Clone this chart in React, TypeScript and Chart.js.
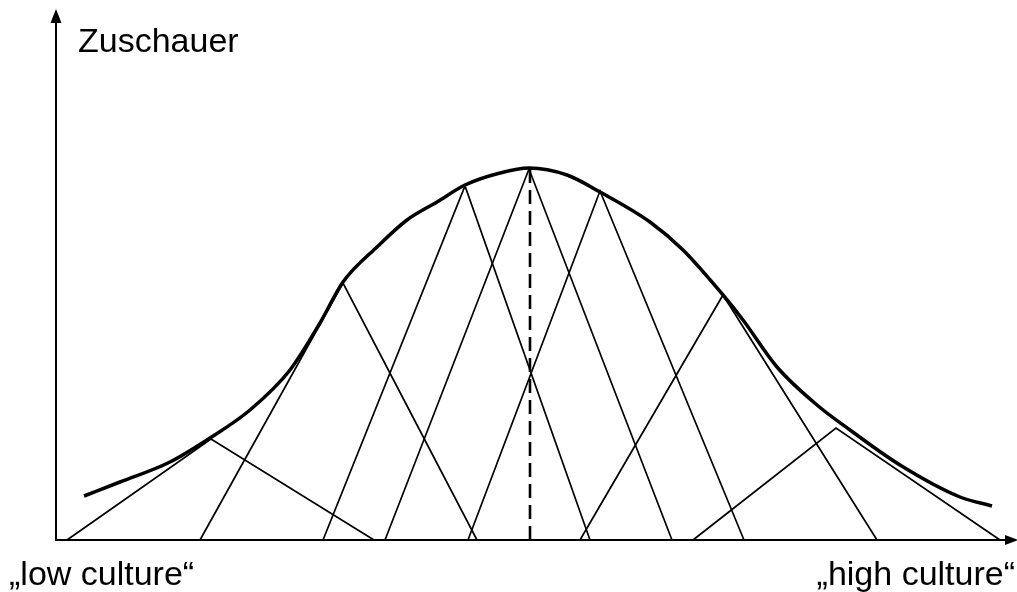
import React, { useEffect, useRef } from "react";
import { Chart, registerables } from "chart.js";

Chart.register(...registerables);

// Bell curve of audience ("Zuschauer") over the culture axis
const curveX = [2.8, 6.4, 11.4, 15.4, 19.4, 23.4, 26.4, 28.7, 32.1, 35.1, 38.1, 40.9, 44.4, 47.3, 51.1, 54.4, 59.4, 62.7, 66.7, 68.7, 72.1, 76.1, 79.4, 84.4, 90.4, 93.6];
const curveY = [4.4, 5.8, 7.8, 10.2, 13.0, 17.0, 21.7, 25.8, 29.3, 32.0, 33.8, 35.5, 36.7, 37.2, 36.5, 34.8, 31.8, 29.0, 24.5, 22.0, 17.3, 13.5, 11.0, 7.5, 4.3, 3.4];

// Triangles: left foot, apex, right foot
const triLeft = [1.1, 14.4, 26.7, 32.9, 41.2, 52.4, 63.7];
const triApexX = [15.5, 28.7, 40.9, 47.3, 54.4, 66.7, 78.0];
const triApexY = [10.1, 25.7, 35.4, 37.1, 34.9, 24.5, 11.2];
const triRight = [31.8, 42.1, 53.4, 61.6, 68.8, 82.1, 94.4];

// Dashed line at the peak
const peakX = 47.4;
const peakY = 37.1;

const xMax = 96.1;
const yMax = 53;

const yAxisTitle = "Zuschauer";
const lowLabel = "\u201Elow culture\u201C";
const highLabel = "\u201Ehigh culture\u201C";

const FONT = "Liberation Sans, Arial, Helvetica, sans-serif";

const axesPlugin = {
  id: "axesPlugin",
  afterDatasetsDraw(chart: any) {
    const { ctx, chartArea, scales } = chart;
    const x0 = scales.x.getPixelForValue(0);
    const y0 = scales.y.getPixelForValue(0);
    const top = chartArea.top;
    const right = chartArea.right;
    ctx.save();
    ctx.strokeStyle = "#000";
    ctx.fillStyle = "#000";
    ctx.lineWidth = 2;
    // y axis
    ctx.beginPath();
    ctx.moveTo(x0, y0 + 1);
    ctx.lineTo(x0, top + 10);
    ctx.stroke();
    ctx.beginPath();
    ctx.moveTo(x0, top - 1);
    ctx.lineTo(x0 - 5.5, top + 13);
    ctx.lineTo(x0 + 5.5, top + 13);
    ctx.closePath();
    ctx.fill();
    // x axis
    ctx.beginPath();
    ctx.moveTo(x0 - 1, y0);
    ctx.lineTo(right - 10, y0);
    ctx.stroke();
    ctx.beginPath();
    ctx.moveTo(right + 1, y0);
    ctx.lineTo(right - 12, y0 - 5);
    ctx.lineTo(right - 12, y0 + 5);
    ctx.closePath();
    ctx.fill();

    // texts
    ctx.font = `34px ${FONT}`;
    ctx.textBaseline = "alphabetic";
    ctx.textAlign = "left";
    ctx.fillText(yAxisTitle, x0 + 22, top + 42);
    ctx.fillText(lowLabel, 9, y0 + 45);
    ctx.textAlign = "right";
    ctx.fillText(highLabel, right - 2, y0 + 45);
    ctx.restore();
  },
};

export default function App() {
  const ref = useRef<HTMLCanvasElement | null>(null);

  useEffect(() => {
    if (!ref.current) return;
    const datasets: any[] = [];
    for (let i = 0; i < triLeft.length; i++) {
      datasets.push({
        data: [
          { x: triLeft[i], y: 0 },
          { x: triApexX[i], y: triApexY[i] },
          { x: triRight[i], y: 0 },
        ],
        borderColor: "#000",
        borderWidth: 1.7,
        pointRadius: 0,
        tension: 0,
        fill: false,
        clip: false,
      });
    }
    datasets.push({
      data: [
        { x: peakX, y: 0 },
        { x: peakX, y: peakY },
      ],
      borderColor: "#000",
      borderWidth: 2.6,
      borderDash: [14, 7],
      pointRadius: 0,
      fill: false,
      clip: false,
    });
    datasets.push({
      data: curveX.map((x, i) => ({ x, y: curveY[i] })),
      borderColor: "#000",
      borderWidth: 3.5,
      pointRadius: 0,
      tension: 0.4,
      cubicInterpolationMode: "monotone",
      fill: false,
      clip: false,
    });

    const chart = new Chart(ref.current, {
      type: "line",
      data: { datasets },
      options: {
        animation: false,
        responsive: false,
        maintainAspectRatio: false,
        layout: { padding: { left: 56, right: 0, top: 10, bottom: 52 } },
        plugins: { legend: { display: false }, tooltip: { enabled: false }, title: { display: false } },
        scales: {
          x: { type: "linear", min: 0, max: xMax, display: false },
          y: { type: "linear", min: 0, max: yMax, display: false },
        },
        events: [],
      },
      plugins: [axesPlugin],
    });
    return () => chart.destroy();
  }, []);

  return (
    <div style={{ position: "fixed", left: 0, top: 0, width: 1017, height: 592, background: "#fff" }}>
      <canvas ref={ref} width={1017} height={592} style={{ width: 1017, height: 592, display: "block" }} />
    </div>
  );
}
